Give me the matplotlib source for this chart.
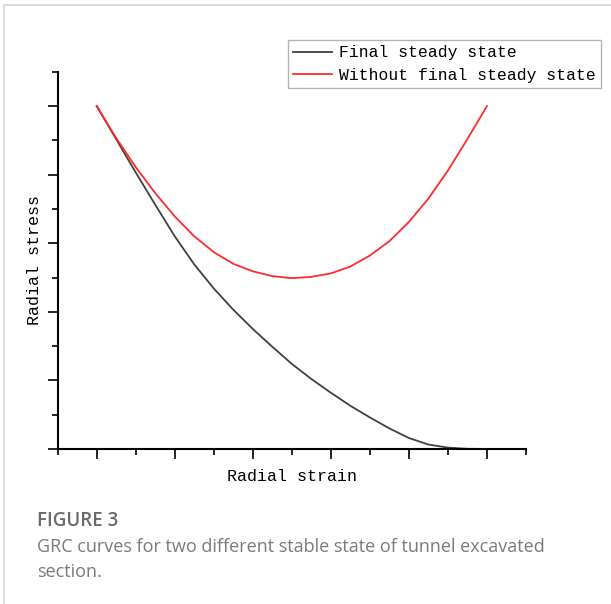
import numpy as np
import matplotlib
matplotlib.use("Agg")
import matplotlib.pyplot as plt
from matplotlib.lines import Line2D
from matplotlib.ticker import MultipleLocator, NullFormatter

# GRC curves (arbitrary units)
strain = [0.0, 0.25, 0.5, 0.75, 1.0, 1.25, 1.5, 1.75, 2.0, 2.25, 2.5,
          2.75, 3.0, 3.25, 3.5, 3.75, 4.0, 4.25, 4.5, 4.75, 5.0]
stress_final = [5.0, 4.515, 4.03, 3.56, 3.10, 2.69, 2.34, 2.03, 1.75, 1.49, 1.24,
                1.02, 0.82, 0.63, 0.46, 0.30, 0.16, 0.065, 0.02, 0.003, 0.0]
stress_nofinal = [5.0, 4.53, 4.11, 3.73, 3.39, 3.10, 2.87, 2.70, 2.59, 2.52, 2.49,
                  2.51, 2.56, 2.66, 2.82, 3.03, 3.31, 3.65, 4.06, 4.52, 5.0]

labels = ["Final steady state", "Without final steady state"]
caption_title = "FIGURE 3"
caption_lines = ["GRC curves for two different stable state of tunnel excavated",
                 "section."]

W, H = 611, 604
fig = plt.figure(figsize=(W / 100, H / 100), dpi=100)
ax = fig.add_axes([57.7 / W, 1 - 449 / H, (526 - 57.7) / W, (449 - 71.7) / H])

ax.plot(strain, stress_final, color="#404040", lw=1.3, label=labels[0])
ax.plot(strain, stress_nofinal, color="#ff2a2a", lw=1.3, label=labels[1])

ax.set_xlim(-0.5, 5.5)
ax.set_ylim(0, 5.5)
ax.xaxis.set_major_locator(MultipleLocator(1))
ax.xaxis.set_minor_locator(MultipleLocator(0.5))
ax.yaxis.set_major_locator(MultipleLocator(1))
ax.yaxis.set_minor_locator(MultipleLocator(0.5))
ax.xaxis.set_major_formatter(NullFormatter())
ax.yaxis.set_major_formatter(NullFormatter())
ax.tick_params(which="major", length=7, width=1.2, direction="out")
ax.tick_params(which="minor", length=4, width=1.2, direction="out")
for s in ["top", "right"]:
    ax.spines[s].set_visible(False)
for s in ["left", "bottom"]:
    ax.spines[s].set_linewidth(1.5)

lab_font = dict(family="Liberation Mono", size=12)
ax.set_xlabel("Radial strain", fontdict=lab_font, labelpad=4)
ax.set_ylabel("Radial stress", fontdict=lab_font, labelpad=0.5)

leg = fig.legend(loc="upper left", bbox_to_anchor=(288 / W, 1 - 40 / H),
                 prop={"family": "Liberation Mono", "size": 11.8},
                 frameon=True, fancybox=False, edgecolor="#a0a0a0",
                 handlelength=2.35, handletextpad=0.45, borderpad=0.33,
                 labelspacing=0.45, borderaxespad=0)
leg.get_frame().set_linewidth(1.0)

# caption
fig.text(37 / W, 1 - 521 / H, caption_title, fontsize=13.5, family="Open Sans",
         weight="semibold", color="#6a6a6a", va="center", ha="left")
for i, line in enumerate(caption_lines):
    fig.text(37 / W, 1 - (547 + 25 * i) / H, line, fontsize=13, family="Open Sans",
             color="#7a7a7a", va="center", ha="left")

# panel border
fig.add_artist(Line2D([4 / W, 1], [1 - 5 / H, 1 - 5 / H], color="#d4d4d4", lw=1.2))
fig.add_artist(Line2D([4 / W, 4 / W], [0, 1 - 5 / H], color="#d4d4d4", lw=1.2))

fig.savefig("out.png", dpi=100)
